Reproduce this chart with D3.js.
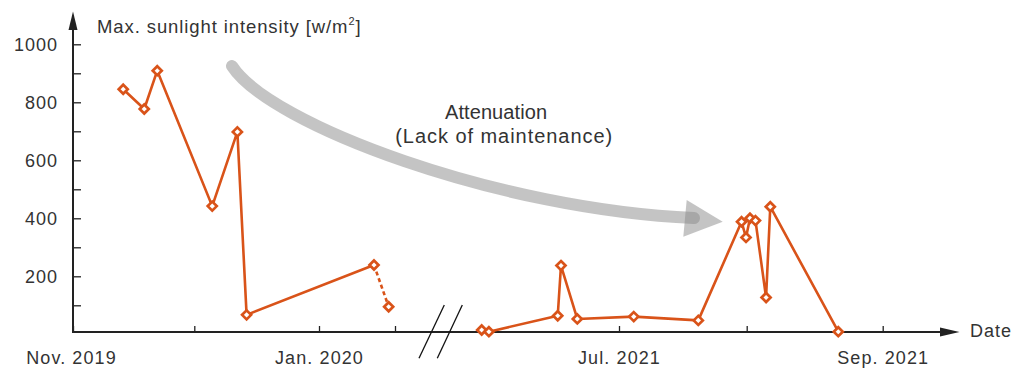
<!DOCTYPE html>
<html>
<head>
<meta charset="utf-8">
<script src="https://cdn.jsdelivr.net/npm/d3@7"></script>
<style>
  html, body { margin: 0; padding: 0; background: #fff; }
  svg { display: block; font-family: "Liberation Sans", Arial, Helvetica, sans-serif; }
</style>
</head>
<body>
<svg id="chart" width="1027" height="372"></svg>
<script>
// ---------------- data ----------------
const dates1 = ["2019-11-13T10:00", "2019-11-18T15:00", "2019-11-21T20:00", "2019-12-05T11:00",
                "2019-12-11T17:00", "2019-12-14T00:00", "2020-01-14T18:00"];
const values1 = [845, 777, 909, 442, 698, 67, 239];
const datesDashed = ["2020-01-14T18:00", "2020-01-18T10:00"];
const valuesDashed = [239, 95];
const dates2 = ["2021-05-28T16:00", "2021-05-30T10:00", "2021-06-16T03:00", "2021-06-16T22:00",
                "2021-06-20T21:00", "2021-07-04T14:00", "2021-07-20T06:00", "2021-07-30T18:00",
                "2021-07-31T20:00", "2021-08-01T18:00", "2021-08-03T00:00", "2021-08-05T10:00",
                "2021-08-06T09:00", "2021-08-21T21:00"];
const values2 = [15, 9, 64, 237, 53, 61, 48, 388, 334, 400, 392, 127, 440, 9];

const xTickDates = ["2019-11-01", "2019-12-01", "2020-01-01", "2020-01-20", "2021-07-01", "2021-08-01", "2021-09-01"];
const xTickLabels = ["Nov. 2019", "", "Jan. 2020", "", "Jul. 2021", "", "Sep. 2021"];
const yTickValues = [100, 200, 300, 400, 500, 600, 700, 800, 900, 1000];
const yTickLabels = ["", "200", "", "400", "", "600", "", "800", "", "1000"];

const yTitle = "Max. sunlight intensity [w/m";
const yTitleSup = "2";
const xTitle = "Date";
const annotLine1 = "Attenuation";
const annotLine2 = "(Lack of maintenance)";

// ---------------- setup ----------------
const svg = d3.select("#chart");
const orange = "#D95319";
const axisColor = "#222";
const textColor = "#333";
const parse = s => new Date(s);

// broken time axis: piecewise scale
const x = d3.scaleTime()
  .domain(["2019-11-01", "2019-12-01", "2020-01-01", "2020-01-20", "2021-05-15", "2021-07-01", "2021-08-01", "2021-09-01", "2021-09-20"].map(parse))
  .range([73, 194.3, 319, 395, 425.4, 619, 746.7, 882.7, 966]);
const y = d3.scaleLinear().domain([0, 1000]).range([334.3, 44.3]);

const axisX0 = 73, axisY0 = 332;

// ---------------- grey annotation arrow ----------------
const arrowG = svg.append("g");
arrowG.append("path")
  .attr("d", "M232,66 C270,125 500,210 694,218")
  .attr("fill", "none")
  .attr("stroke", "#8a8a8a")
  .attr("stroke-opacity", 0.5)
  .attr("stroke-width", 12)
  .attr("stroke-linecap", "round");
arrowG.append("path")
  .attr("d", "M686.7,200 L722.7,221.7 L683.3,236.7 Z")
  .attr("fill", "#8a8a8a")
  .attr("fill-opacity", 0.5);

svg.append("text")
  .attr("x", 496).attr("y", 119)
  .attr("text-anchor", "middle")
  .attr("font-size", 20).attr("fill", textColor)
  .attr("textLength", 102).attr("lengthAdjust", "spacing")
  .text(annotLine1);
svg.append("text")
  .attr("x", 503.7).attr("y", 142.5)
  .attr("text-anchor", "middle")
  .attr("font-size", 20).attr("fill", textColor)
  .attr("textLength", 217).attr("lengthAdjust", "spacing")
  .text(annotLine2);

// ---------------- axes ----------------
const yAxis = d3.axisLeft(y)
  .tickValues(yTickValues)
  .tickSize(-8)
  .tickPadding(15)
  .tickFormat((d, i) => yTickLabels[i]);
const gy = svg.append("g").attr("transform", `translate(${axisX0},0)`).call(yAxis);
gy.select(".domain").remove();
gy.selectAll(".tick line").attr("stroke", axisColor).attr("stroke-width", 1.3);
gy.selectAll(".tick text")
  .attr("font-size", 18).attr("fill", textColor)
  .attr("font-family", "Liberation Sans, Arial, sans-serif")
  .attr("letter-spacing", "1px");

const xAxis = d3.axisBottom(x)
  .tickValues(xTickDates.map(parse))
  .tickSize(-6)
  .tickPadding(19)
  .tickFormat((d, i) => xTickLabels[i]);
const gx = svg.append("g").attr("transform", `translate(0,${axisY0})`).call(xAxis);
gx.select(".domain").remove();
gx.selectAll(".tick line").attr("stroke", axisColor).attr("stroke-width", 1.3);
gx.selectAll(".tick text")
  .attr("font-size", 18).attr("fill", textColor)
  .attr("font-family", "Liberation Sans, Arial, sans-serif")
  .attr("letter-spacing", "1.1px")
  .attr("dx", (d, i) => i === 0 ? -2 : 0);

// axis lines with arrowheads
svg.append("line")
  .attr("x1", axisX0).attr("x2", axisX0).attr("y1", axisY0 + 1).attr("y2", 28)
  .attr("stroke", axisColor).attr("stroke-width", 2);
svg.append("path")
  .attr("d", `M${axisX0},11.5 L${axisX0 + 4.5},30 L${axisX0 - 4.5},30 Z`)
  .attr("fill", axisColor);
svg.append("line")
  .attr("x1", axisX0 - 1).attr("x2", 942).attr("y1", axisY0).attr("y2", axisY0)
  .attr("stroke", axisColor).attr("stroke-width", 2);
svg.append("path")
  .attr("d", `M959.5,${axisY0} L940,${axisY0 - 4.5} L940,${axisY0 + 4.5} Z`)
  .attr("fill", axisColor);

// axis break marks
const breakG = svg.append("g").attr("stroke", "#111").attr("stroke-width", 1.3);
breakG.append("line").attr("x1", 419).attr("y1", 358.3).attr("x2", 444.3).attr("y2", 305);
breakG.append("line").attr("x1", 437.3).attr("y1", 358.3).attr("x2", 462.3).attr("y2", 305);

// titles
const yt = svg.append("text")
  .attr("x", 97).attr("y", 33)
  .attr("font-size", 18.5).attr("fill", textColor)
  .attr("letter-spacing", "0.9px");
yt.append("tspan").text(yTitle);
yt.append("tspan").attr("font-size", 11).attr("dy", -8).text(yTitleSup);
yt.append("tspan").attr("dy", 8).text("]");

svg.append("text")
  .attr("x", 970).attr("y", 337)
  .attr("font-size", 18).attr("fill", textColor)
  .attr("letter-spacing", "1px")
  .text(xTitle);

// ---------------- series ----------------
const line = d3.line().x(d => x(d[0])).y(d => y(d[1]));
const s1 = dates1.map((d, i) => [parse(d), values1[i]]);
const sd = datesDashed.map((d, i) => [parse(d), valuesDashed[i]]);
const s2 = dates2.map((d, i) => [parse(d), values2[i]]);

const series = svg.append("g");
series.append("path").datum(s1).attr("d", line)
  .attr("fill", "none").attr("stroke", orange).attr("stroke-width", 2.6).attr("stroke-linejoin", "round");
series.append("path").datum(sd).attr("d", line)
  .attr("fill", "none").attr("stroke", orange).attr("stroke-width", 2.6).attr("stroke-dasharray", "4,3");
series.append("path").datum(s2).attr("d", line)
  .attr("fill", "none").attr("stroke", orange).attr("stroke-width", 2.6).attr("stroke-linejoin", "round");

const diamond = d3.symbol().type(d3.symbolDiamond2).size(52);
const allPts = s1.concat([sd[1]], s2);
series.selectAll(".mk").data(allPts).join("path")
  .attr("class", "mk")
  .attr("transform", d => `translate(${x(d[0])},${y(d[1])})`)
  .attr("d", diamond)
  .attr("fill", "#fff")
  .attr("stroke", orange)
  .attr("stroke-width", 2.7);
</script>
</body>
</html>
